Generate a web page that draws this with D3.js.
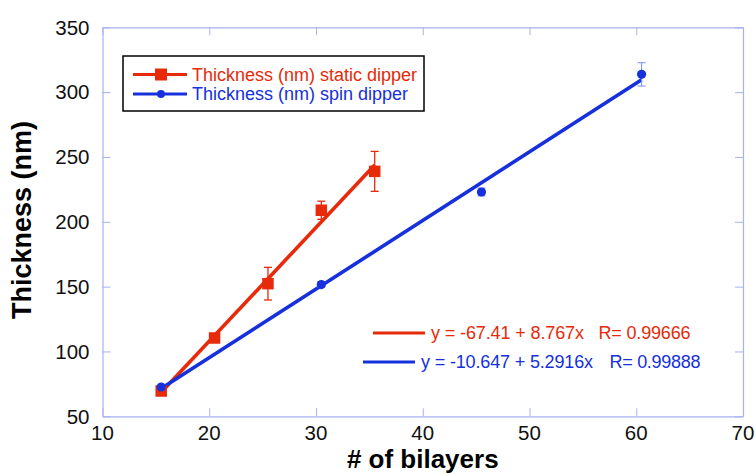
<!DOCTYPE html>
<html>
<head>
<meta charset="utf-8">
<script src="https://cdn.jsdelivr.net/npm/d3@7"></script>
<style>
  html, body { margin: 0; padding: 0; background: #fff; }
  svg { display: block; font-family: "Liberation Sans", Arial, Helvetica, sans-serif; }
</style>
</head>
<body>
<svg id="chart" width="756" height="474"></svg>
<script>
// Film thickness vs. number of bilayers for two dipping methods
const staticBilayers = [15.5, 20.5, 25.5, 30.5, 35.5];
const staticThickness = [69.5, 110.4, 152.3, 208.9, 238.9];
const staticError = [2, 3, 12.6, 7, 15.4];

const spinBilayers = [15.5, 30.5, 45.5, 60.5];
const spinThickness = [72.6, 151.6, 223.0, 313.7];
const spinError = [1.5, 2, 3, 9];

// Linear fits: [intercept, slope, R]
const staticFit = [-67.41, 8.767, 0.99666];
const spinFit = [-10.647, 5.2916, 0.99888];

const xTicks = [10, 20, 30, 40, 50, 60, 70];
const yTicks = [50, 100, 150, 200, 250, 300, 350];

const seriesNames = ["Thickness (nm) static dipper", "Thickness (nm) spin dipper"];
const fitLabels = ["y = -67.41 + 8.767x", "y = -10.647 + 5.2916x"];
const rLabels = ["R= 0.99666", "R= 0.99888"];

const RED = "#e62a0a";
const BLUE = "#1530dc";
const FRAME = "#a6b2f2";

const svg = d3.select("#chart");
const plot = { left: 102.5, right: 743, top: 27.3, bottom: 416.3 };

const x = d3.scaleLinear().domain([10, 70]).range([plot.left, plot.right]);
const y = d3.scaleLinear().domain([50, 350]).range([plot.bottom, plot.top]);

// Frame with inward ticks on all four sides
const tickLen = 8;
const axisG = svg.append("g");
axisG.append("g").attr("transform", `translate(0,${plot.bottom})`)
  .call(d3.axisBottom(x).tickValues(xTicks).tickSizeInner(-tickLen).tickSizeOuter(0).tickFormat(""));
axisG.append("g").attr("transform", `translate(0,${plot.top})`)
  .call(d3.axisTop(x).tickValues(xTicks).tickSizeInner(-tickLen).tickSizeOuter(0).tickFormat(""));
axisG.append("g").attr("transform", `translate(${plot.left},0)`)
  .call(d3.axisLeft(y).tickValues(yTicks).tickSizeInner(-tickLen).tickSizeOuter(0).tickFormat(""));
axisG.append("g").attr("transform", `translate(${plot.right},0)`)
  .call(d3.axisRight(y).tickValues(yTicks).tickSizeInner(-tickLen).tickSizeOuter(0).tickFormat(""));
axisG.selectAll("path.domain").attr("stroke", FRAME).attr("stroke-width", 1.2);
axisG.selectAll(".tick line").attr("stroke", FRAME).attr("stroke-width", 1);

// Tick labels
svg.append("g").selectAll("text").data(xTicks).join("text")
  .attr("x", d => x(d)).attr("y", 440)
  .attr("text-anchor", "middle").attr("font-size", 20.5).attr("fill", "#111")
  .text(d => d);
svg.append("g").selectAll("text").data(yTicks).join("text")
  .attr("x", 89.5).attr("y", d => y(d) + 7.3)
  .attr("text-anchor", "end").attr("font-size", 20.5).attr("fill", "#111")
  .text(d => d);

// Axis titles
svg.append("text")
  .attr("x", (plot.left + plot.right) / 2).attr("y", 468)
  .attr("text-anchor", "middle").attr("font-size", 26).attr("font-weight", "bold").attr("fill", "#000")
  .text("# of bilayers");
svg.append("text")
  .attr("transform", "translate(31,220) rotate(-90)")
  .attr("text-anchor", "middle").attr("font-size", 27).attr("font-weight", "bold").attr("fill", "#000")
  .text("Thickness (nm)");

// Fit lines over each series' range
function fitLine(fit, xs) {
  const lo = d3.min(xs), hi = d3.max(xs);
  return [[lo, fit[0] + fit[1] * lo], [hi, fit[0] + fit[1] * hi]];
}
const line = d3.line().x(d => x(d[0])).y(d => y(d[1]));

svg.append("path").datum(fitLine(staticFit, staticBilayers))
  .attr("d", line).attr("fill", "none").attr("stroke", RED).attr("stroke-width", 3.6);
svg.append("path").datum(fitLine(spinFit, spinBilayers))
  .attr("d", line).attr("fill", "none").attr("stroke", BLUE).attr("stroke-width", 3.6);

// Error bars
function errorBars(xs, ys, es, color, width) {
  const g = svg.append("g").attr("stroke", color).attr("stroke-width", width);
  xs.forEach((xv, i) => {
    const cx = x(xv), t = y(ys[i] + es[i]), b = y(ys[i] - es[i]);
    g.append("line").attr("x1", cx).attr("x2", cx).attr("y1", t).attr("y2", b);
    g.append("line").attr("x1", cx - 4).attr("x2", cx + 4).attr("y1", t).attr("y2", t);
    g.append("line").attr("x1", cx - 4).attr("x2", cx + 4).attr("y1", b).attr("y2", b);
  });
}
errorBars(staticBilayers, staticThickness, staticError, RED, 1.3);
errorBars(spinBilayers, spinThickness, spinError, "#8796f0", 1.1);

// Markers
const sq = 11.5;
svg.append("g").selectAll("rect").data(staticBilayers).join("rect")
  .attr("x", (d) => x(d) - sq / 2).attr("y", (d, i) => y(staticThickness[i]) - sq / 2)
  .attr("width", sq).attr("height", sq).attr("fill", RED);
svg.append("g").selectAll("circle").data(spinBilayers).join("circle")
  .attr("cx", d => x(d)).attr("cy", (d, i) => y(spinThickness[i]))
  .attr("r", 4.6).attr("fill", BLUE);

// Series legend
const leg = svg.append("g");
leg.append("rect").attr("x", 123).attr("y", 56).attr("width", 301).attr("height", 55)
  .attr("fill", "#fff").attr("stroke", "#000").attr("stroke-width", 1.5);
[[RED, 74.5], [BLUE, 94]].forEach(([c, ly], i) => {
  leg.append("line").attr("x1", 133).attr("x2", 187).attr("y1", ly).attr("y2", ly)
    .attr("stroke", c).attr("stroke-width", 3);
  if (i === 0) {
    leg.append("rect").attr("x", 155).attr("y", ly - 6).attr("width", 12).attr("height", 12).attr("fill", c);
  } else {
    leg.append("circle").attr("cx", 161).attr("cy", ly).attr("r", 4).attr("fill", c);
  }
  leg.append("text").attr("x", 192).attr("y", ly + 6.3).attr("font-size", 18).attr("fill", c)
    .text(seriesNames[i]);
});

// Fit equation legend
const fitLeg = [
  { c: RED, y: 333, x1: 373, x2: 425, tx: 431, tw: 153, rx: 598.5, rw: 92 },
  { c: BLUE, y: 362, x1: 363, x2: 415, tx: 421, tw: 172, rx: 609.5, rw: 91 }
];
fitLeg.forEach((f, i) => {
  svg.append("line").attr("x1", f.x1).attr("x2", f.x2).attr("y1", f.y).attr("y2", f.y)
    .attr("stroke", f.c).attr("stroke-width", 3);
  svg.append("text").attr("x", f.tx).attr("y", f.y + 6.3).attr("font-size", 18).attr("fill", f.c)
    .attr("textLength", f.tw).attr("lengthAdjust", "spacing").text(fitLabels[i]);
  svg.append("text").attr("x", f.rx).attr("y", f.y + 6.3).attr("font-size", 18).attr("fill", f.c)
    .attr("textLength", f.rw).attr("lengthAdjust", "spacing").text(rLabels[i]);
});
</script>
</body>
</html>
